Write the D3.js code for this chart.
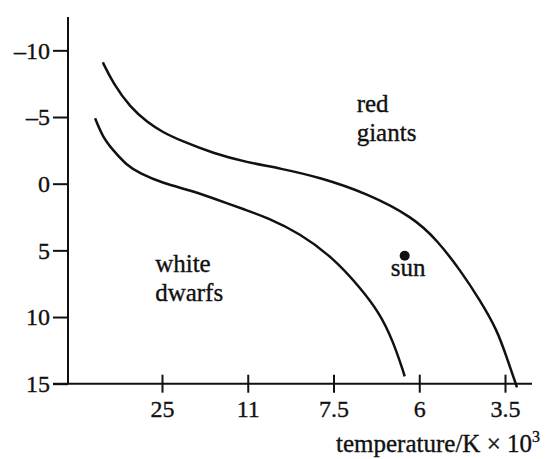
<!DOCTYPE html>
<html>
<head>
<meta charset="utf-8">
<script src="https://cdn.jsdelivr.net/npm/d3@7"></script>
<style>
  body { margin: 0; background: #fff; }
  svg text { font-family: "Liberation Serif", "Times New Roman", "DejaVu Serif", serif; fill: #111; stroke: #111; stroke-width: 0.35px; }
</style>
</head>
<body>
<svg width="548" height="459"></svg>
<script>
// tick positions on the x axis are evenly spaced categories (index 1..5)
var xTickLabels = ["25", "11", "7.5", "6", "3.5"];
var yTicks = [-10, -5, 0, 5, 10, 15];

// curves: [x position in tick units, magnitude]
var giantsCurve = [
  [0.31, -9.1], [0.43, -7.52], [0.63, -5.72], [0.83, -4.6], [1.01, -3.85],
  [1.21, -3.25], [1.6, -2.27], [1.99, -1.6], [2.38, -1.15], [2.84, -0.47],
  [3.39, 0.72], [3.93, 2.52], [4.21, 4.25], [4.48, 6.5], [4.71, 8.75],
  [4.91, 11.0], [5.02, 13.03], [5.14, 15.28]
];
var dwarfsCurve = [
  [0.22, -4.9], [0.31, -3.48], [0.43, -2.5], [0.59, -1.37], [0.74, -0.78],
  [1.01, -0.03], [1.33, 0.5], [1.6, 1.1], [1.99, 2.0], [2.22, 2.53],
  [2.61, 3.73], [2.99, 5.53], [3.31, 7.78], [3.54, 9.73], [3.69, 11.75],
  [3.81, 14.0], [3.83, 14.45]
];
var sun = [3.83, 5.4];

var labels = [
  { lines: ["red", "giants"], x: 3.27, y: -5.35 },
  { lines: ["white", "dwarfs"], x: 0.92, y: 6.65 },
  { lines: ["sun"], x: 3.87, y: 6.9, anchor: "middle" }
];

var svg = d3.select("svg");

var x = d3.scaleLinear().domain([1, 5]).range([162, 505]);
var y = d3.scaleLinear().domain([-12.5, 15]).range([17, 383.7]);

var xAxisY = y(15), yAxisX = 68;

// axis lines
svg.append("line")
  .attr("x1", 53).attr("x2", 532)
  .attr("y1", xAxisY).attr("y2", xAxisY)
  .attr("stroke", "#111").attr("stroke-width", 2);
svg.append("line")
  .attr("x1", yAxisX).attr("x2", yAxisX)
  .attr("y1", 17).attr("y2", xAxisY)
  .attr("stroke", "#111").attr("stroke-width", 2);

// y axis
var gy = svg.append("g")
  .attr("transform", "translate(" + yAxisX + ",0)")
  .call(d3.axisLeft(y).tickValues(yTicks).tickSize(15).tickPadding(3)
    .tickFormat(function(d) { return d < 0 ? "\u2013" + (-d) : d; }));
gy.select(".domain").remove();
gy.attr("font-family", null).attr("font-size", null);
gy.selectAll(".tick line").attr("stroke", "#111").attr("stroke-width", 2);
gy.selectAll(".tick text").style("font-size", "24px");

// x axis, ticks cross the line
var gx = svg.append("g")
  .attr("transform", "translate(0," + xAxisY + ")")
  .call(d3.axisBottom(x).tickValues([1, 2, 3, 4, 5])
    .tickFormat(function(d, i) { return xTickLabels[i]; }));
gx.select(".domain").remove();
gx.attr("font-family", null).attr("font-size", null);
gx.selectAll(".tick line")
  .attr("y1", -9).attr("y2", 9)
  .attr("stroke", "#111").attr("stroke-width", 2);
gx.selectAll(".tick text")
  .attr("y", 33).attr("dy", 0)
  .style("font-size", "24px");

var axisLabel = svg.append("text")
  .attr("x", 540).attr("y", 452)
  .attr("text-anchor", "end")
  .style("font-size", "25px");
axisLabel.append("tspan").text("temperature/K \u00d7 10");
axisLabel.append("tspan").attr("dy", -10).style("font-size", "16px").text("3");

// curves
var line = d3.line()
  .x(function(d) { return x(d[0]); })
  .y(function(d) { return y(d[1]); })
  .curve(d3.curveBasis);

[giantsCurve, dwarfsCurve].forEach(function(c) {
  svg.append("path")
    .datum(c)
    .attr("d", line)
    .attr("fill", "none")
    .attr("stroke", "#111")
    .attr("stroke-width", 2.5);
});

svg.append("circle")
  .attr("cx", x(sun[0])).attr("cy", y(sun[1]))
  .attr("r", 5).attr("fill", "#111");

labels.forEach(function(l) {
  var t = svg.append("text")
    .attr("x", x(l.x)).attr("y", y(l.y))
    .attr("text-anchor", l.anchor || "start")
    .style("font-size", "25px");
  l.lines.forEach(function(s, i) {
    t.append("tspan").attr("x", x(l.x)).attr("dy", i ? 29 : 0).text(s);
  });
});
</script>
</body>
</html>
